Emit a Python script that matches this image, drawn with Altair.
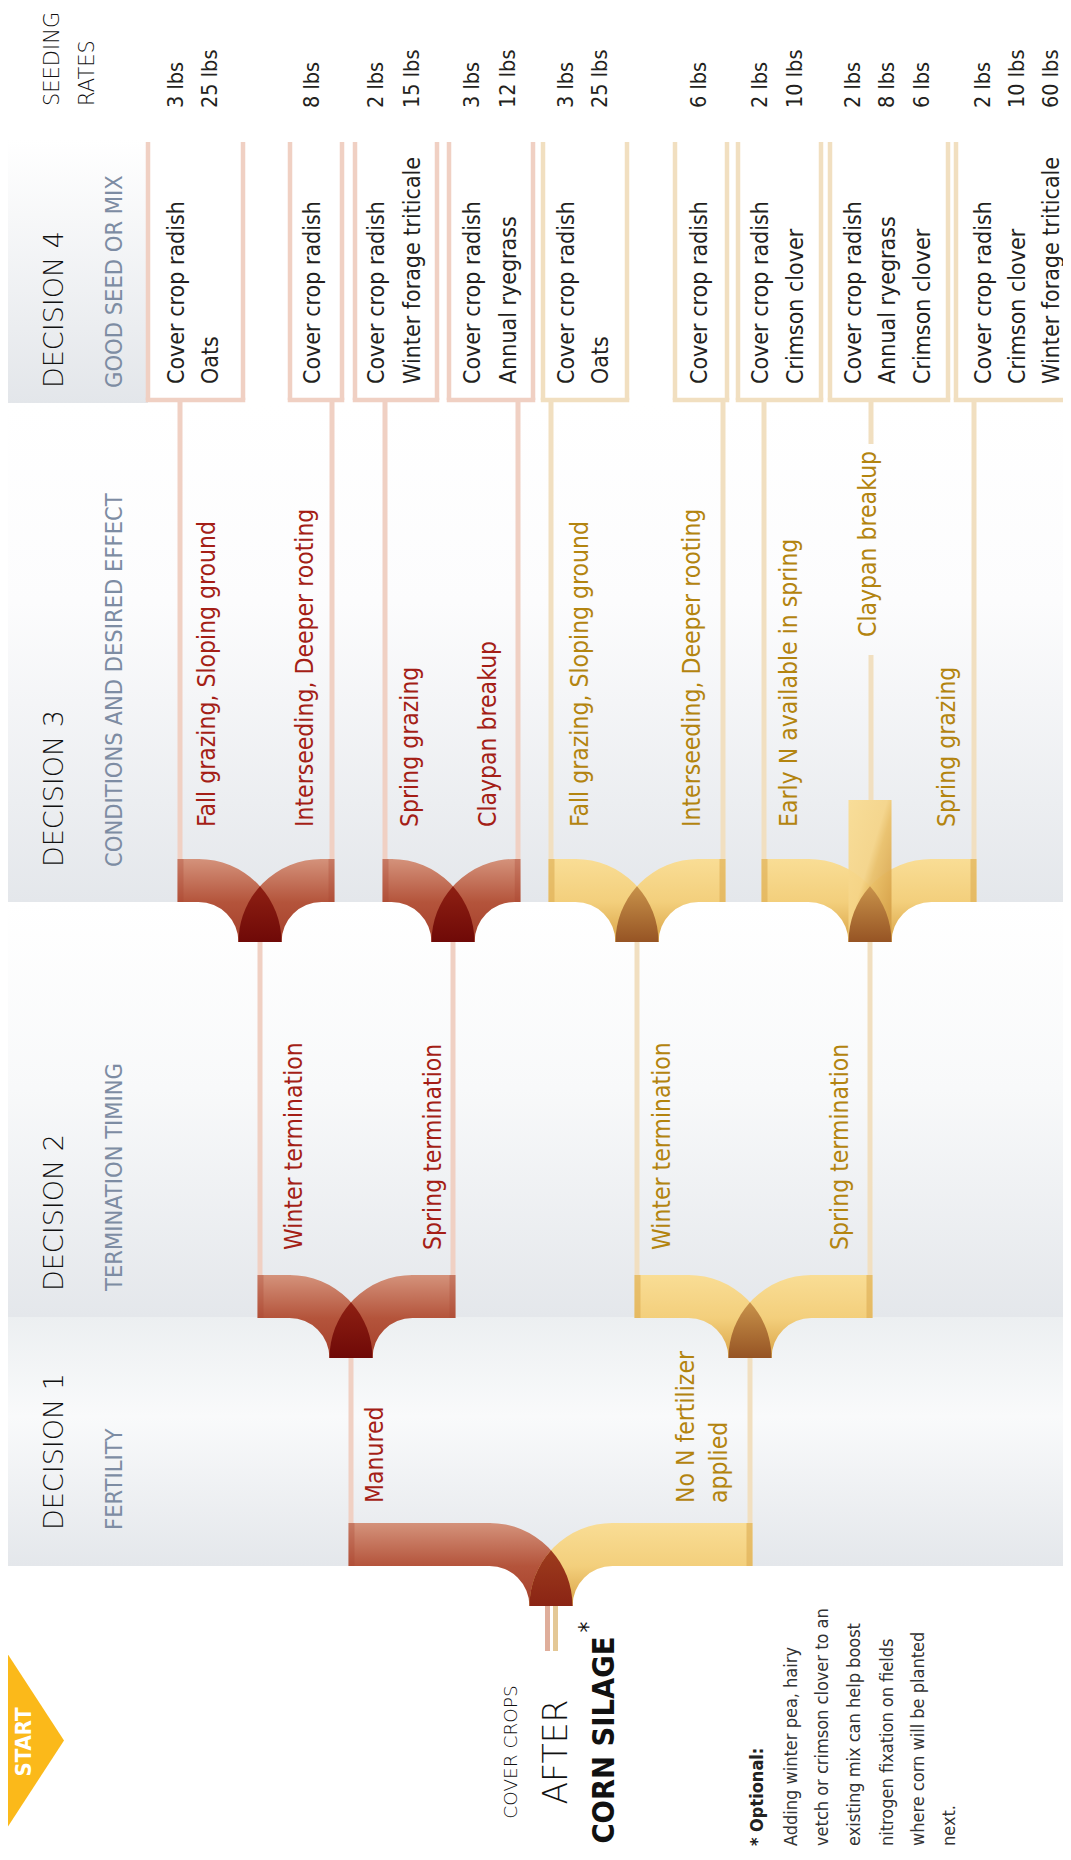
import math
import altair as alt
import pandas as pd

# ====================== DATA (chart content) ======================
seeding_header = ["SEEDING", "RATES"]
decision_titles = ["DECISION 4", "DECISION 3", "DECISION 2", "DECISION 1"]
decision_subtitles = ["GOOD SEED OR MIX", "CONDITIONS AND DESIRED EFFECT",
                      "TERMINATION TIMING", "FERTILITY"]

mix_group = ["Manured", "Manured", "Manured", "Manured",
             "No N", "No N", "No N", "No N", "No N"]
mix_species = [
    ["Cover crop radish", "Oats"],
    ["Cover crop radish"],
    ["Cover crop radish", "Winter forage triticale"],
    ["Cover crop radish", "Annual ryegrass"],
    ["Cover crop radish", "Oats"],
    ["Cover crop radish"],
    ["Cover crop radish", "Crimson clover"],
    ["Cover crop radish", "Annual ryegrass", "Crimson clover"],
    ["Cover crop radish", "Crimson clover", "Winter forage triticale"],
]
seeding_rates = [
    ["3 lbs", "25 lbs"], ["8 lbs"], ["2 lbs", "15 lbs"], ["3 lbs", "12 lbs"],
    ["3 lbs", "25 lbs"], ["6 lbs"], ["2 lbs", "10 lbs"],
    ["2 lbs", "8 lbs", "6 lbs"], ["2 lbs", "10 lbs", "60 lbs"],
]
conditions = ["Fall grazing, Sloping ground", "Interseeding, Deeper rooting",
              "Spring grazing", "Claypan breakup",
              "Fall grazing, Sloping ground", "Interseeding, Deeper rooting",
              "Early N available in spring", "Claypan breakup", "Spring grazing"]
condition_group = mix_group
termination = ["Winter termination", "Spring termination",
               "Winter termination", "Spring termination"]
termination_group = ["Manured", "Manured", "No N", "No N"]
fertility = [["Manured"], ["No N fertilizer", "applied"]]
fertility_group = ["Manured", "No N"]
title_text = ["COVER CROPS", "AFTER", "CORN SILAGE"]
note_title = "* Optional:"
note_lines = ["Adding winter pea, hairy", "vetch or crimson clover to an",
              "existing mix can help boost", "nitrogen fixation on fields",
              "where corn will be planted", "next."]
start_label = "START"

# ====================== LAYOUT (pixel frame of the 1071 x 1860 page) ======================
OFF = 8
VIEW_W, VIEW_H = 1055, 1840
box_left = [148, 290, 355, 449, 543, 675, 738, 830, 956]
box_right = [243, 342, 437, 533, 627, 727, 821, 948, 1067]
box_top, box_bottom = 142, 400
species_x = [[177, 211], [313], [377, 413], [473, 509], [567, 601], [700],
             [761, 796], [854, 888, 923], [984, 1018, 1052]]
species_y0 = 384
rates_y0 = 108
leaf_x = [180, 332, 385, 518, 551, 723, 764, 871, 974]
condition_x = [208, 306, 411, 489, 581, 693, 790, 869, 948]
condition_y0 = [827, 827, 827, 827, 827, 827, 827, 637, 827]
termination_x = [295, 434, 663, 841]
termination_y0 = 1250
fertility_x = [[376], [687, 720]]
fertility_y0 = 1503

junction_children = [[180, 332], [385, 518], [551, 723], [764, 974],
                     [260, 453], [637, 870], [351, 750]]
junction_center = [260, 453, 637, 870, 351, 750, 551]
junction_top = [859, 859, 859, 859, 1275, 1275, 1523]
junction_groups = [("Manured", "Manured"), ("Manured", "Manured"), ("No N", "No N"),
                   ("No N", "No N"), ("Manured", "Manured"), ("No N", "No N"),
                   ("Manured", "No N")]
W_PIPE, R_OUT = 43, 83
R_IN = R_OUT - W_PIPE
HALF = W_PIPE / 2

bands = [  # x0, x1, y0, y1
    (4, 148, 140, 403), (4, 1071, 403, 902), (4, 1071, 902, 1317), (4, 1071, 1317, 1566)]

# ====================== STYLE ======================
FONT = "DejaVu Sans Condensed, Liberation Sans Narrow, sans-serif"
THIN = "DejaVu Sans"
TEXT_COL = {"Manured": "#a41e16", "No N": "#b3840f"}
LINE_COL = {"Manured": "#f0d0c3", "No N": "#f1dfc0"}
DARK = "#231f20"
SUB = "#7d8ca3"

XS = alt.Scale(domain=[OFF, OFF + VIEW_W], nice=False, zero=False)
YS = alt.Scale(domain=[OFF, OFF + VIEW_H], nice=False, zero=False, reverse=True)


def grad(stops, x1=0, y1=0, x2=0, y2=1):
    return alt.LinearGradient(gradient="linear",
                              stops=[alt.GradientStop(color=c, offset=o) for o, c in stops],
                              x1=x1, y1=y1, x2=x2, y2=y2)


def xy(ch, x2=False, y2=False):
    e = dict(x=alt.X("x:Q", scale=XS, axis=None), y=alt.Y("y:Q", scale=YS, axis=None))
    if x2:
        e["x2"] = alt.X2("x2:Q")
    if y2:
        e["y2"] = alt.Y2("y2:Q")
    return ch.encode(**e)


def rects(rows, fill, opacity=1.0):
    ch = alt.Chart(pd.DataFrame(rows)).mark_rect(color=fill, strokeWidth=0, opacity=opacity)
    return xy(ch, True, True)


def rules(rows, width):
    ch = alt.Chart(pd.DataFrame(rows)).mark_rule(strokeWidth=width, strokeCap="butt")
    return xy(ch, True, True).encode(color=alt.Color("c:N", scale=None))


def arcs(rows, fill, t1, t2):
    ch = alt.Chart(pd.DataFrame(rows)).mark_arc(color=fill, radius=R_OUT, radius2=R_IN,
                                                theta=t1, theta2=t2, strokeWidth=0)
    return xy(ch)


def shapes(rows, path, fill):
    ch = alt.Chart(pd.DataFrame(rows)).mark_point(shape=path, size=4, filled=True,
                                                  color=fill, opacity=1, strokeWidth=0)
    return xy(ch)


def texts(rows, size, weight="normal", align="left", font=FONT, angle=270):
    ch = alt.Chart(pd.DataFrame(rows)).mark_text(angle=angle, align=align, baseline="middle",
                                                 fontSize=size, fontWeight=weight, font=font)
    return xy(ch).encode(text=alt.Text("t:N"), color=alt.Color("c:N", scale=None))


layers = []

# ---- background bands ----
band_grads = [
    grad([(0, "#ffffff"), (1, "#e3e6ea")]),
    grad([(0, "#ffffff"), (0.4, "#fcfcfd"), (1, "#e4e7eb")]),
    grad([(0, "#ffffff"), (0.45, "#f8f9fa"), (1, "#e4e7eb")]),
    grad([(0, "#eceff1"), (0.4, "#f9fafb"), (1, "#e4e7eb")]),
]
for (x0, x1, y0, y1), g in zip(bands, band_grads):
    layers.append(rects([dict(x=x0, x2=x1, y=y0, y2=y1)], g))

# ---- thin connector lines ----
line_rows = []
for i, (x, g) in enumerate(zip(leaf_x, mix_group)):
    if i == 7:
        line_rows.append(dict(x=x, x2=x, y=box_bottom, y2=444, c=LINE_COL[g]))
        line_rows.append(dict(x=x, x2=x, y=655, y2=800, c=LINE_COL[g]))
    else:
        line_rows.append(dict(x=x, x2=x, y=box_bottom, y2=junction_top[0], c=LINE_COL[g]))
for k in range(4):
    x = junction_center[k]
    line_rows.append(dict(x=x, x2=x, y=junction_top[k] + R_OUT, y2=junction_top[4],
                          c=LINE_COL[junction_groups[k][0]]))
for k in (4, 5):
    x = junction_center[k]
    line_rows.append(dict(x=x, x2=x, y=junction_top[k] + R_OUT, y2=junction_top[6],
                          c=LINE_COL[junction_groups[k][0]]))
root_y0 = junction_top[6] + R_OUT
line_rows.append(dict(x=547.5, x2=547.5, y=root_y0, y2=root_y0 + 45, c="#dfae9b"))
line_rows.append(dict(x=555.5, x2=555.5, y=root_y0, y2=root_y0 + 45, c="#e4c896"))
layers.append(rules(line_rows, 5))

# ---- seed-mix boxes (open-top brackets) ----
box_rows = []
for xl, xr, g in zip(box_left, box_right, mix_group):
    c = LINE_COL[g]
    box_rows.append(dict(x=xl, x2=xl, y=box_top, y2=box_bottom, c=c))
    box_rows.append(dict(x=xr, x2=xr, y=box_top, y2=box_bottom, c=c))
    box_rows.append(dict(x=xl - 2.25, x2=xr + 2.25, y=box_bottom, y2=box_bottom, c=c))
layers.append(rules(box_rows, 4.5))

# ---- junction pipes ----
PIPE = {
    "Manured": dict(bar=grad([(0, "#d4927b"), (1, "#b4543b")]),
                    arc=grad([(0, "#d4927b"), (0.52, "#b4543b"), (1, "#a5402b")]),
                    cap="#a8432e", cap_op=0.3),
    "No N": dict(bar=grad([(0, "#f9dd95"), (1, "#f3cf7c")]),
                 arc=grad([(0, "#f9dd95"), (0.52, "#f3cf7c"), (1, "#d9a346")]),
                 cap="#dcab52", cap_op=0.6),
}
bars = {"Manured": [], "No N": []}
caps = {"Manured": [], "No N": []}
arc_l = {"Manured": [], "No N": []}
arc_r = {"Manured": [], "No N": []}
lens = {"RR": [], "NN": [], "RN": []}
for kids, c, top, (gl, gr) in zip(junction_children, junction_center, junction_top, junction_groups):
    xl, xr = kids[0] - 2.5, kids[-1] + 2.5
    cl, cr = c - HALF - R_IN, c + HALF + R_IN
    yb = top + R_OUT
    bars[gl].append(dict(x=xl, x2=cl + 1.5, y=top, y2=top + W_PIPE))
    bars[gr].append(dict(x=cr - 1.5, x2=xr, y=top, y2=top + W_PIPE))
    caps[gl].append(dict(x=xl, x2=xl + 6, y=top, y2=top + W_PIPE))
    caps[gr].append(dict(x=xr - 6, x2=xr, y=top, y2=top + W_PIPE))
    arc_l[gl].append(dict(x=cl, y=yb))
    arc_r[gr].append(dict(x=cr, y=yb))
    key = "RR" if gl == gr == "Manured" else ("NN" if gl == gr == "No N" else "RN")
    lens[key].append(dict(x=c, y=yb))

for g in ("Manured", "No N"):
    layers.append(rects(bars[g], PIPE[g]["bar"]))
    layers.append(rects(caps[g], PIPE[g]["cap"], PIPE[g]["cap_op"]))
    layers.append(arcs(arc_l[g], PIPE[g]["arc"], 0, math.pi / 2))
    layers.append(arcs(arc_r[g], PIPE[g]["arc"], 3 * math.pi / 2, 2 * math.pi))

# middle (third) branch pipe of the last conditions junction
mid_c = junction_center[3]
layers.append(rects([dict(x=mid_c - HALF, x2=mid_c + HALF, y=800, y2=junction_top[3] + R_OUT)],
                    grad([(0, "#f9dc92"), (0.45, "#f5d487"), (0.55, "#eac068"), (1, "#cf963e")],
                         0, 0, 1, 1), 0.93))

ya = math.sqrt(R_OUT ** 2 - (HALF + R_IN) ** 2)
LENS = (f"M{-HALF} 0 A{R_OUT} {R_OUT} 0 0 1 0 {-ya:.2f} "
        f"A{R_OUT} {R_OUT} 0 0 1 {HALF} 0 Z")
lens_grad = {"RR": grad([(0, "#8e2013"), (1, "#6f0907")]),
             "NN": grad([(0, "#c8924a"), (1, "#965424")]),
             "RN": grad([(0, "#9d3c1d"), (1, "#8a2414")])}
for k in ("RR", "NN", "RN"):
    layers.append(shapes(lens[k], LENS, lens_grad[k]))

# ---- START arrow ----
TRI = "M-28.5 -87.5 L28.5 0 L-28.5 87.5 Z"
layers.append(shapes([dict(x=35.5, y=1740.5)], TRI, "#fbb91a"))
layers.append(texts([dict(x=24, y=1742, t=start_label, c="#ffffff")], 22, "bold", "center"))

# ---- texts ----
layers.append(texts([dict(x=x, y=rates_y0 - 2, t=t, c="#111111")
                     for x, t in zip([53, 88], seeding_header)], 21, 200, font=THIN))
title_x, sub_x = 55, 115
title_y0 = [388, 867, 1291, 1530]
layers.append(texts([dict(x=title_x, y=y, t=t, c="#111111")
                     for y, t in zip(title_y0, decision_titles)], 27, 200, font=THIN))
layers.append(texts([dict(x=sub_x, y=y, t=t, c=SUB)
                     for y, t in zip(title_y0, decision_subtitles)], 23.5))

sp_rows, rate_rows = [], []
for xs_, sp, rt in zip(species_x, mix_species, seeding_rates):
    for x, s in zip(xs_, sp):
        sp_rows.append(dict(x=x, y=species_y0, t=s, c=DARK))
    for x, r in zip(xs_, rt):
        rate_rows.append(dict(x=x, y=rates_y0, t=r, c=DARK))
layers.append(texts(sp_rows, 23))
layers.append(texts(rate_rows, 21.5))

lab_rows = [dict(x=x, y=y, t=t, c=TEXT_COL[g])
            for x, y, t, g in zip(condition_x, condition_y0, conditions, condition_group)]
lab_rows += [dict(x=x, y=termination_y0, t=t, c=TEXT_COL[g])
             for x, t, g in zip(termination_x, termination, termination_group)]
for xs_, ls, g in zip(fertility_x, fertility, fertility_group):
    for x, t in zip(xs_, ls):
        lab_rows.append(dict(x=x, y=fertility_y0, t=t, c=TEXT_COL[g]))
layers.append(texts(lab_rows, 24.5))

# title block
layers.append(texts([dict(x=511, y=1752, t=title_text[0], c="#111111")], 18.5, 200,
                    "center", font=THIN))
layers.append(texts([dict(x=557, y=1752, t=title_text[1], c="#111111")], 33, 200,
                    "center", font=THIN))
layers.append(texts([dict(x=605, y=1740, t=title_text[2], c="#111111")], 30.5, "bold", "center"))
layers.append(texts([dict(x=589, y=1627, t="*", c="#111111")], 24, align="center"))

# footnote
layers.append(texts([dict(x=758, y=1846, t=note_title, c="#222222")], 18, "bold"))
layers.append(texts([dict(x=x, y=1846, t=t, c="#333333")
                     for x, t in zip([792, 823, 855, 888, 919, 950], note_lines)], 18))

chart = alt.layer(*layers).properties(
    width=VIEW_W, height=VIEW_H, padding=0,
    autosize=alt.AutoSizeParams(type="none"), background="white"
).configure_view(stroke=None)

chart.save("out.html", embed_options={"renderer": "svg", "actions": False})
